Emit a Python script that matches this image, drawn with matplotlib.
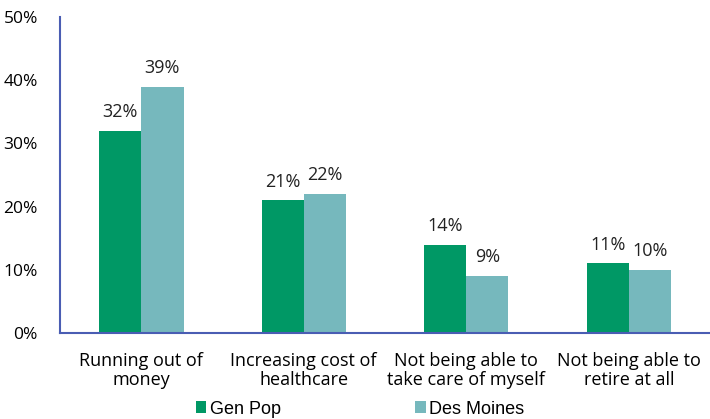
import matplotlib
matplotlib.use('Agg')
import matplotlib.pyplot as plt
import numpy as np

categories = ['Running out of\nmoney', 'Increasing cost of\nhealthcare',
              'Not being able to\ntake care of myself', 'Not being able to\nretire at all']
gen_pop = [32, 21, 14, 11]
des_moines = [39, 22, 9, 10]
series_names = ['Gen Pop', 'Des Moines']
colors = ['#009865', '#76B8BD']

fig = plt.figure(figsize=(7.1, 4.19), dpi=100)
ax = fig.add_axes([60/710, 86/419, 650/710, 316/419])

x = np.arange(len(categories))
w = 0.26
b1 = ax.bar(x - w/2, gen_pop, w, color=colors[0], label=series_names[0])
b2 = ax.bar(x + w/2, des_moines, w, color=colors[1], label=series_names[1])

for bars, vals in ((b1, gen_pop), (b2, des_moines)):
    for bar, v in zip(bars, vals):
        ax.annotate(f'{v}%', (bar.get_x() + bar.get_width()/2, v),
                    xytext=(0, 7), textcoords='offset points',
                    ha='center', va='bottom', fontsize=13, family='Open Sans', color='#222222')

ax.set_xlim(-0.5, 3.5)
ax.set_ylim(0, 50)
ax.set_yticks(range(0, 51, 10))
ax.set_yticklabels([f'{v}%' for v in range(0, 51, 10)], family='Open Sans', fontsize=12.5)
ax.set_xticks(x)
ax.set_xticklabels(categories, family='Open Sans', fontsize=13, linespacing=1.05)
ax.tick_params(length=0, pad=14)
ax.tick_params(axis='y', pad=16)

for s in ['top', 'right']:
    ax.spines[s].set_visible(False)
ax.spines['left'].set_color('#4A5DB3')
ax.spines['left'].set_linewidth(1.5)
ax.spines['bottom'].set_color('#4A5DB3')
ax.spines['bottom'].set_linewidth(1.5)

fig.legend(handles=[b1, b2], loc='center', bbox_to_anchor=(0.507, 10/419), ncol=2,
           frameon=False, prop={'family': 'Liberation Sans', 'size': 13},
           handlelength=0.6, handleheight=0.6, handletextpad=0.2, columnspacing=7.4,
           borderpad=0)

fig.savefig('out.png', dpi=100)
